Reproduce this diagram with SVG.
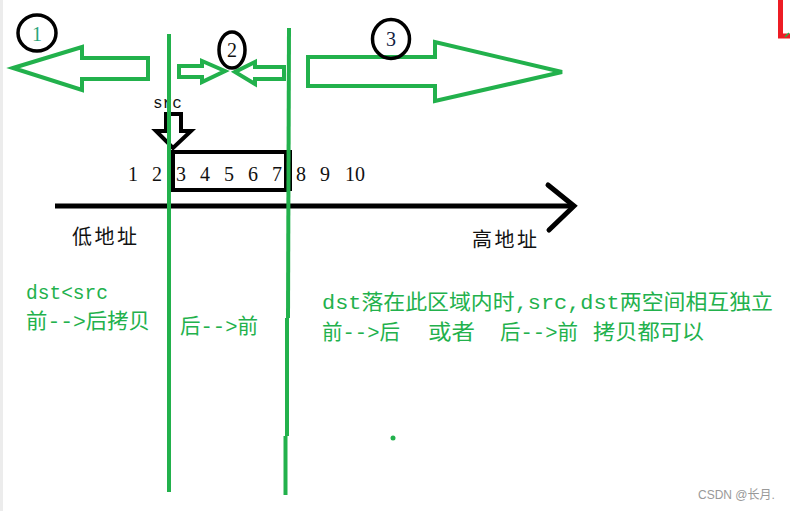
<svg xmlns="http://www.w3.org/2000/svg" width="790" height="511" viewBox="0 0 790 511">
<style>
.g{fill:none;stroke:#22b14c;stroke-width:4;stroke-linejoin:miter}
.gl{fill:none;stroke:#22b14c;stroke-width:4;stroke-linecap:butt}
.k{fill:none;stroke:#000;stroke-width:4}
.ring{fill:none;stroke:#000;stroke-width:3.5}
.num{font-family:"Liberation Serif","Noto Sans CJK SC",serif;font-size:20px;fill:#111;text-anchor:middle}
.cn{font-family:"Liberation Serif","Noto Sans CJK SC",serif;font-size:20px;fill:#111}
.gt{font-family:"Liberation Mono","Noto Sans CJK SC",monospace;font-size:21px;fill:#22b14c}
</style>
<rect width="790" height="511" fill="#fff"/>
<line x1="1.5" y1="0" x2="1.5" y2="511" stroke="#ececec" stroke-width="3"/>
<path d="M780.5,0 V36 H790" fill="none" stroke="#ed1c24" stroke-width="5"/>
<line x1="785" y1="37" x2="789" y2="33" stroke="#22b14c" stroke-width="1.5"/>

<g id="region1">
<polygon class="g" points="13,68 82,47 82,58 148,58 148,79 82,79 82,90"/>
<ellipse class="ring" cx="37" cy="33" rx="19" ry="18"/>
<text x="37" y="41" class="num" style="fill:#2aa57a">1</text>
</g>
<g id="region2">
<polygon class="g" points="179,66 202,66 202,61 225,71 202,82 202,77 179,77"/>
<polygon class="g" points="284,67 255,67 255,62 235,72 255,84 255,79 284,79"/>
<ellipse class="ring" cx="232" cy="50" rx="13" ry="18"/>
<text x="232" y="57" class="num">2</text>
</g>
<g id="region3">
<polygon class="g" points="308,57 435,57 435,42 562,72 435,101 435,86 308,86"/>
<ellipse class="ring" cx="391" cy="39" rx="18.5" ry="19.5"/>
<text x="391" y="46" class="num" style="fill:#102040">3</text>
</g>

<g id="src">
<text x="153" y="108" style="font-family:'Liberation Mono',monospace;font-size:16px;fill:#111">src</text>
<polygon class="k" points="166,114 181,114 181,131 191,131 173,148 156,131 166,131"/>
</g>

<g id="numbers">
<text x="133" y="181" class="num">1</text>
<text x="157" y="181" class="num">2</text>
<text x="181" y="181" class="num">3</text>
<text x="205" y="181" class="num">4</text>
<text x="229" y="181" class="num">5</text>
<text x="253" y="181" class="num">6</text>
<text x="277" y="181" class="num">7</text>
<text x="301" y="181" class="num">8</text>
<text x="325" y="181" class="num">9</text>
<text x="355" y="181" class="num">10</text>
<rect class="k" x="173" y="152" width="113" height="38"/>
<line x1="291" y1="150" x2="291" y2="191" stroke="#000" stroke-width="2"/>
</g>

<g id="connectors">
<line x1="55" y1="206" x2="574" y2="206" stroke="#000" stroke-width="5"/>
<polyline points="548,185 574,206 549,230" fill="none" stroke="#000" stroke-width="5" stroke-linecap="round"/>
</g>

<g id="labels">
<text x="72" y="244" class="cn" textLength="65">低地址</text>
<text x="472" y="247" class="cn" textLength="65">高地址</text>
</g>

<g id="dividers">
<line class="gl" x1="169" y1="34" x2="169" y2="492"/>
<line class="gl" x1="289" y1="28" x2="288" y2="318"/>
<line class="gl" x1="287" y1="318" x2="287" y2="436"/>
<line class="gl" x1="285.5" y1="436" x2="285.5" y2="495"/>
</g>

<g id="notes">
<text x="26" y="299" class="gt" textLength="82" lengthAdjust="spacingAndGlyphs">dst&lt;src</text>
<text x="26" y="328" class="gt" textLength="124" lengthAdjust="spacingAndGlyphs">前--&gt;后拷贝</text>
<text x="180" y="333" class="gt" textLength="78" lengthAdjust="spacingAndGlyphs">后--&gt;前</text>
<text x="322" y="309" class="gt" textLength="451" lengthAdjust="spacingAndGlyphs">dst落在此区域内时,src,dst两空间相互独立</text>
<text y="339" class="gt"><tspan x="322" textLength="78" lengthAdjust="spacingAndGlyphs">前--&gt;后</tspan><tspan x="428" textLength="47" lengthAdjust="spacingAndGlyphs">或者</tspan><tspan x="500" textLength="78" lengthAdjust="spacingAndGlyphs">后--&gt;前</tspan><tspan x="593" textLength="111" lengthAdjust="spacingAndGlyphs">拷贝都可以</tspan></text>
</g>

<circle cx="393" cy="438" r="2.5" fill="#22b14c"/>
<text x="698" y="499" style="font-family:'Liberation Sans','Noto Sans CJK SC',sans-serif;font-size:12px;fill:#999">CSDN @长月.</text>
</svg>
